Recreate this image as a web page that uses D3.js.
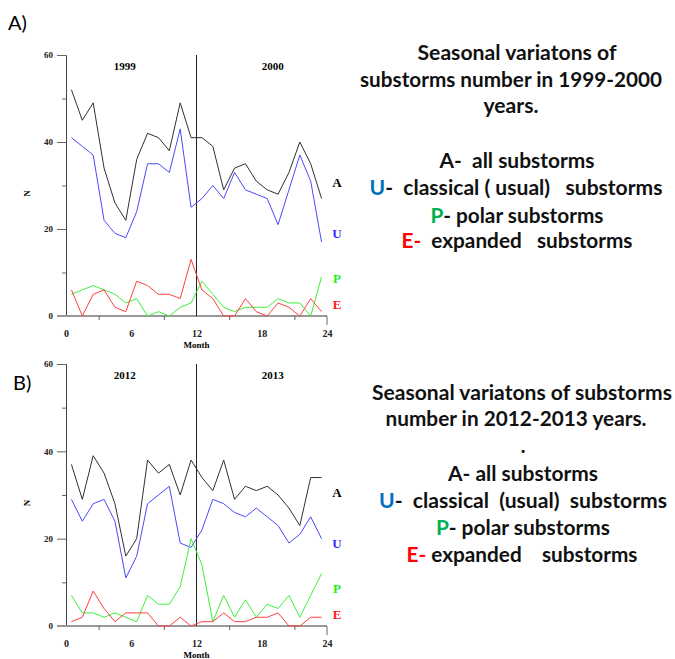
<!DOCTYPE html>
<html>
<head>
<meta charset="utf-8">
<script src="https://cdn.jsdelivr.net/npm/d3@7"></script>
<style>
  body { margin: 0; background: #fff; }
  svg text { white-space: pre; }
</style>
</head>
<body>
<div id="chart"></div>
<script>
// month centres (each value is plotted in the middle of its month)
const months = [0.5, 1.5, 2.5, 3.5, 4.5, 5.5, 6.5, 7.5, 8.5, 9.5, 10.5, 11.5,
  12.5, 13.5, 14.5, 15.5, 16.5, 17.5, 18.5, 19.5, 20.5, 21.5, 22.5, 23.5];

// 1999-2000
const allA1 = [52, 45, 49, 34, 26, 22, 36, 42, 41, 38, 49, 41, 41, 39, 29, 34, 35, 31, 29, 28, 33, 40, 35, 27];
const usualU1 = [41, 39, 37, 22, 19, 18, 24, 35, 35, 33, 43, 25, 27, 30, 27, 33, 29, 28, 27, 21, 29, 37, 31, 17];
const polarP1 = [5, 6, 7, 6, 5, 3, 4, 0, 1, 0, 2, 3, 8, 5, 2, 1, 2, 2, 2, 4, 3, 3, 0, 9];
const expandedE1 = [6, 0, 5, 6, 2, 1, 8, 7, 5, 5, 4, 13, 6, 4, 0, 0, 4, 1, 0, 3, 2, 0, 4, 1];

// 2012-2013
const allA2 = [37, 29, 39, 35, 28, 16, 20, 38, 35, 37, 30, 38, 34, 31, 38, 29, 32, 31, 32, 30, 27, 23, 34, 34];
const usualU2 = [29, 24, 28, 29, 24, 11, 16, 28, 30, 32, 19, 18, 22, 29, 28, 26, 25, 27, 25, 23, 19, 21, 25, 20];
const polarP2 = [7, 3, 3, 2, 3, 2, 1, 7, 5, 5, 9, 20, 14, 1, 7, 2, 6, 2, 5, 4, 7, 2, 7, 12];
const expandedE2 = [1, 2, 8, 4, 1, 3, 3, 3, 0, 0, 2, 0, 1, 1, 3, 1, 1, 2, 2, 3, 0, 0, 2, 2];

const monthTicks = [0, 6, 12, 18, 24];
const monthMinor = [3, 9, 15, 21];
const nTicks = [0, 20, 40, 60];
const nMinor = [10, 30, 50];

const years1 = ['1999', '2000'];
const years2 = ['2012', '2013'];
// where the year captions sit along the month axis
const yearAt = [5.4, 19];

const w = 675;
const h = 659;

const svg = d3.select('#chart')
  .append('svg')
  .attr('width', w)
  .attr('height', h);

const colors = { A: '#303030', U: '#4a4aff', P: '#3cf03c', E: '#ff4040' };
const labelColors = { A: '#000', U: '#3030ff', P: '#22ee22', E: '#ff2020' };

const x = d3.scaleLinear().domain([0, 24]).range([66, 327]);

function drawPanel(top, bottom, series, years, labelY) {
  const y = d3.scaleLinear().domain([0, 60]).range([bottom, top]);
  const g = svg.append('g');

  // y axis: major ticks with labels, minor ticks
  const yAxis = g.append('g')
    .attr('transform', 'translate(66,0)')
    .call(d3.axisLeft(y).tickValues(nTicks).tickSize(9).tickPadding(4));
  yAxis.select('.domain').attr('stroke', '#444');
  yAxis.selectAll('.tick line').attr('stroke', '#666');
  yAxis.selectAll('text')
    .attr('font-family', 'Liberation Serif')
    .attr('font-weight', 'bold')
    .attr('font-size', 9)
    .attr('fill', '#222');

  g.append('g')
    .attr('transform', 'translate(66,0)')
    .call(d3.axisLeft(y).tickValues(nMinor).tickSize(4).tickFormat(''))
    .call(a => a.select('.domain').remove())
    .selectAll('line').attr('stroke', '#666');

  // x axis
  g.append('line')
    .attr('x1', 57).attr('x2', x(24))
    .attr('y1', y(0)).attr('y2', y(0))
    .attr('stroke', '#999')
    .attr('stroke-width', 2);

  const xAxis = g.append('g')
    .attr('transform', `translate(0,${y(0)})`)
    .call(d3.axisBottom(x).tickValues(monthTicks).tickSize(0).tickPadding(14));
  xAxis.select('.domain').remove();
  xAxis.selectAll('text')
    .attr('font-family', 'Liberation Serif')
    .attr('font-weight', 'bold')
    .attr('font-size', 10)
    .attr('fill', '#222');

  g.append('g')
    .attr('transform', `translate(0,${y(0)})`)
    .call(d3.axisBottom(x).tickValues(monthMinor).tickSize(4).tickFormat(''))
    .call(a => a.select('.domain').remove())
    .selectAll('line').attr('stroke', '#666');

  g.append('line')
    .attr('x1', x(24)).attr('x2', x(24))
    .attr('y1', y(0)).attr('y2', y(0) + 9)
    .attr('stroke', '#666');

  g.append('text')
    .attr('x', x(12))
    .attr('y', y(0) + 32)
    .attr('text-anchor', 'middle')
    .attr('font-family', 'Liberation Serif')
    .attr('font-weight', 'bold')
    .attr('font-size', 9)
    .text('Month');

  g.append('text')
    .attr('transform', `translate(30,${(top + bottom) / 2 + 8}) rotate(-90)`)
    .attr('text-anchor', 'middle')
    .attr('font-family', 'Liberation Serif')
    .attr('font-weight', 'bold')
    .attr('font-size', 9)
    .text('N');

  // year divider
  g.append('line')
    .attr('x1', x(12)).attr('x2', x(12))
    .attr('y1', y(60)).attr('y2', y(0))
    .attr('stroke', '#222');

  g.selectAll('.year')
    .data(years)
    .enter()
    .append('text')
    .attr('x', (d, i) => x(yearAt[i]))
    .attr('y', y(60) + 15)
    .attr('text-anchor', 'middle')
    .attr('font-family', 'Liberation Serif')
    .attr('font-weight', 'bold')
    .attr('font-size', 11)
    .text(d => d);

  // series lines
  const line = d3.line()
    .x((d, i) => x(months[i]))
    .y(d => y(d));

  series.forEach(s => {
    g.append('path')
      .datum(s.values)
      .attr('d', line)
      .attr('fill', 'none')
      .attr('stroke', colors[s.key])
      .attr('stroke-width', 1);

    g.append('text')
      .attr('x', 337)
      .attr('y', labelY[s.key])
      .attr('text-anchor', 'middle')
      .attr('font-family', 'Liberation Serif')
      .attr('font-weight', 'bold')
      .attr('font-size', 13)
      .attr('fill', labelColors[s.key])
      .text(s.key);
  });
}

drawPanel(55, 316, [
  { key: 'A', values: allA1 },
  { key: 'U', values: usualU1 },
  { key: 'P', values: polarP1 },
  { key: 'E', values: expandedE1 }
], years1, { A: 187, U: 238, P: 283, E: 309 });

drawPanel(364, 626, [
  { key: 'A', values: allA2 },
  { key: 'U', values: usualU2 },
  { key: 'P', values: polarP2 },
  { key: 'E', values: expandedE2 }
], years2, { A: 497, U: 548, P: 593, E: 619 });

// panel letters
svg.append('text').attr('x', 8).attr('y', 30)
  .attr('font-family', 'Lato').attr('font-size', 20).text('A)');
svg.append('text').attr('x', 13).attr('y', 390)
  .attr('font-family', 'Lato').attr('font-size', 20).text('B)');

// right-hand descriptions
const cUsual = '#0070c0';
const cPolar = '#00b050';
const cExp = '#ff0000';

function textBlock(lines) {
  lines.forEach(l => {
    const t = svg.append('text')
      .attr('x', l.x)
      .attr('y', l.y)
      .attr('text-anchor', 'middle')
      .attr('font-family', 'Lato')
      .attr('font-weight', 'bold')
      .attr('font-size', 20)
      .attr('fill', '#111');
    if (l.len) t.attr('textLength', l.len).attr('lengthAdjust', 'spacingAndGlyphs');
    l.parts.forEach(p => {
      t.append('tspan').attr('fill', p[1] || '#111').text(p[0]);
    });
  });
}

textBlock([
  { x: 517, y: 60, len: 199, parts: [['Seasonal variatons of']] },
  { x: 511, y: 87, len: 302, parts: [['substorms number in 1999-2000']] },
  { x: 511, y: 113, len: 55, parts: [['years.']] },
  { x: 517, y: 168, len: 155, parts: [['A-  all substorms']] },
  { x: 516, y: 195, len: 293, parts: [['U', cUsual], ['-  classical ( usual)   substorms']] },
  { x: 517, y: 223, len: 173, parts: [['P', cPolar], ['- polar substorms']] },
  { x: 517, y: 248, len: 231, parts: [['E-', cExp], ['  expanded   substorms']] },

  { x: 522, y: 400, len: 300, parts: [['Seasonal variatons of substorms']] },
  { x: 516, y: 426, len: 261, parts: [['number in 2012-2013 years.']] },
  { x: 523, y: 453, parts: [['.']] },
  { x: 523, y: 481, len: 150, parts: [['A- all substorms']] },
  { x: 523, y: 508, len: 288, parts: [['U', cUsual], ['-  classical  (usual)  substorms']] },
  { x: 523, y: 535, len: 174, parts: [['P', cPolar], ['- polar substorms']] },
  { x: 522, y: 562, len: 231, parts: [['E-', cExp], [' expanded    substorms']] }
]);
</script>
</body>
</html>
